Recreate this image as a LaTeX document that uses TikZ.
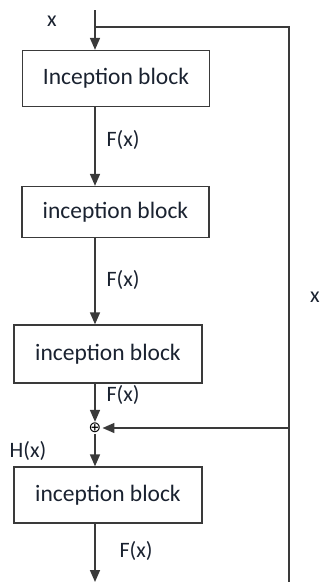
\documentclass[tikz,border=0pt]{standalone}
\usepackage{fontspec}
\setmainfont{Carlito}
\newfontfamily\symfont{DejaVu Sans}
\usetikzlibrary{arrows.meta}
\usetikzlibrary{positioning}
\definecolor{linegray}{HTML}{3A3A3A}
\definecolor{txtcol}{HTML}{1A2230}
\tikzset{block/.style={draw=linegray, line width=1.3pt, minimum width=187pt,
        minimum height=56pt, text=txtcol, font=\fontsize{23.5}{26}\selectfont},
    lbl/.style={text=txtcol, font=\fontsize{22}{25}\selectfont, inner sep=0pt},
    flow/.style={draw=linegray, line width=1.6pt,
        -{Triangle[width=10pt,length=12pt]}},
    wire/.style={draw=linegray, line width=1.6pt}}

\begin{document}
\begin{tikzpicture}[x=1pt,y=-1pt]
    \useasboundingbox (0,0) rectangle (322,582);

    \node[block] (b1) at (116,78.5) {Inception block};
    \node[block,minimum height=51pt] (b2) at (115.5,212) {inception block};
    \node[block,minimum width=188pt,minimum height=58pt] (b3) at (108,354) {inception block};
    \node[block,minimum width=188pt] (b4) at (108,495) {inception block};
    \node[inner sep=1pt,text=black,font=\symfont\fontsize{15}{15}\selectfont] (sum) at (95,428) {⊕};

    \coordinate (top) at (95,10);
    \coordinate (split) at (95,27);
    \coordinate (rtop) at (289,27);
    \coordinate (rbot) at (289,582);
    \coordinate (out) at (95,582);

    % main path
    \draw[flow] (top) -- (top |- b1.north);
    \draw[flow] (top |- b1.south) -- (top |- b2.north);
    \draw[flow] (top |- b2.south) -- (top |- b3.north);
    \draw[flow] (top |- b3.south) -- (sum.north);
    \draw[flow] (sum.south) -- (top |- b4.north);
    \draw[flow] (top |- b4.south) -- (out);

    % shortcut
    \draw[wire] (split) -- (rtop) -- (rbot);
    \draw[flow] (rtop |- sum) -- (sum.east);

    \node[lbl] (lx) at (52,21) {x};
    \node[lbl] (lf1) at (123,140) {F(x)};
    \node[lbl] (lf2) at (123,280) {F(x)};
    \node[lbl] (lf3) at (123,395) {F(x)};
    \node[lbl] (lh) at (28,451) {H(x)};
    \node[lbl] (lf4) at (136,551) {F(x)};
    \node[lbl] (lxr) at (315,297) {x};
\end{tikzpicture}
\end{document}
